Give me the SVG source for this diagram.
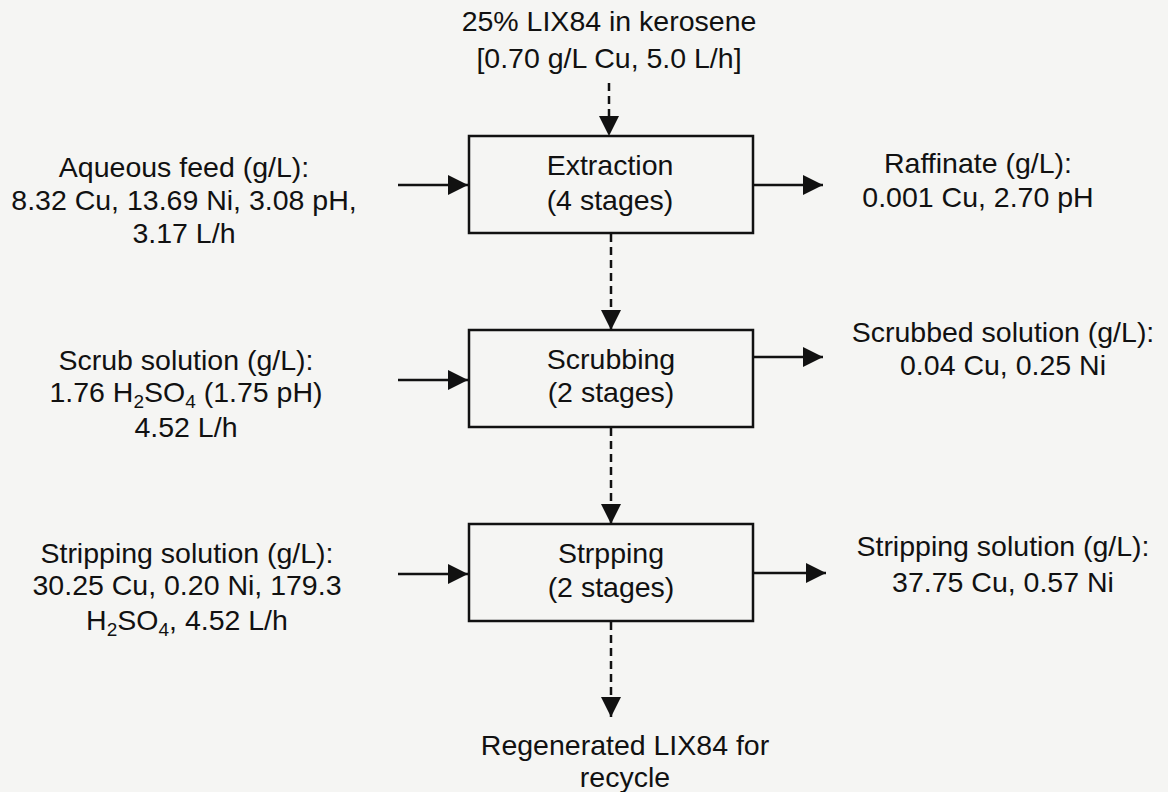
<svg xmlns="http://www.w3.org/2000/svg" width="1168" height="792" viewBox="0 0 1168 792">
<style>
  .t { font-family: "Liberation Sans", Arial, sans-serif; font-size: 28.5px; fill: #111; text-anchor: middle; }
  .box { fill: none; stroke: #111; stroke-width: 2.5; }
  .solid { stroke: #111; stroke-width: 2.5; fill: none; }
  .dash { stroke: #111; stroke-width: 2.5; fill: none; stroke-dasharray: 8 5; }
  .sub { font-size: 19px; }
</style>
<defs>
  <marker id="ah" markerUnits="userSpaceOnUse" markerWidth="20" markerHeight="20" refX="20" refY="10" orient="auto">
    <path d="M0,0 L20,10 L0,20 Z" fill="#111"/>
  </marker>
</defs>
<rect width="1168" height="792" fill="#f5f5f3"/>

<g id="connectors">
  <line class="dash" x1="609" y1="83" x2="609" y2="136" marker-end="url(#ah)"/>
  <line class="dash" x1="611" y1="234" x2="611" y2="330" marker-end="url(#ah)"/>
  <line class="dash" x1="611" y1="428" x2="611" y2="524" marker-end="url(#ah)"/>
  <line class="dash" x1="611" y1="622" x2="611" y2="717" marker-end="url(#ah)"/>
  <line class="solid" x1="398" y1="185" x2="468" y2="185" marker-end="url(#ah)"/>
  <line class="solid" x1="398" y1="380" x2="468" y2="380" marker-end="url(#ah)"/>
  <line class="solid" x1="398" y1="574" x2="468" y2="574" marker-end="url(#ah)"/>
  <line class="solid" x1="753" y1="185" x2="823" y2="185" marker-end="url(#ah)"/>
  <line class="solid" x1="753" y1="357" x2="823" y2="357" marker-end="url(#ah)"/>
  <line class="solid" x1="753" y1="573" x2="826" y2="573" marker-end="url(#ah)"/>
</g>

<g id="extraction">
  <rect class="box" x="469" y="136" width="284" height="97"/>
  <text class="t" x="610" y="175">Extraction</text>
  <text class="t" x="610" y="210">(4 stages)</text>
</g>
<g id="scrubbing">
  <rect class="box" x="469" y="330" width="284" height="97"/>
  <text class="t" x="611" y="369">Scrubbing</text>
  <text class="t" x="611" y="402">(2 stages)</text>
</g>
<g id="stripping">
  <rect class="box" x="469" y="524" width="284" height="97"/>
  <text class="t" x="611" y="563">Strpping</text>
  <text class="t" x="611" y="597">(2 stages)</text>
</g>

<g id="organic-feed">
  <text class="t" x="609" y="31">25% LIX84 in kerosene</text>
  <text class="t" x="609" y="68">[0.70 g/L Cu, 5.0 L/h]</text>
</g>
<g id="aqueous-feed">
  <text class="t" x="184" y="177">Aqueous feed (g/L):</text>
  <text class="t" x="184" y="210">8.32 Cu, 13.69 Ni, 3.08 pH,</text>
  <text class="t" x="184" y="243">3.17 L/h</text>
</g>
<g id="scrub-solution">
  <text class="t" x="186" y="370">Scrub solution (g/L):</text>
  <text class="t" x="186" y="402">1.76 H<tspan class="sub" dy="6">2</tspan><tspan dy="-6">SO</tspan><tspan class="sub" dy="6">4</tspan><tspan dy="-6"> (1.75 pH)</tspan></text>
  <text class="t" x="186" y="437">4.52 L/h</text>
</g>
<g id="stripping-feed">
  <text class="t" x="187" y="563">Stripping solution (g/L):</text>
  <text class="t" x="187" y="595">30.25 Cu, 0.20 Ni, 179.3</text>
  <text class="t" x="187" y="630">H<tspan class="sub" dy="6">2</tspan><tspan dy="-6">SO</tspan><tspan class="sub" dy="6">4</tspan><tspan dy="-6">, 4.52 L/h</tspan></text>
</g>
<g id="raffinate">
  <text class="t" x="978" y="173">Raffinate (g/L):</text>
  <text class="t" x="978" y="207">0.001 Cu, 2.70 pH</text>
</g>
<g id="scrubbed-solution">
  <text class="t" x="1003" y="342">Scrubbed solution (g/L):</text>
  <text class="t" x="1003" y="375">0.04 Cu, 0.25 Ni</text>
</g>
<g id="stripping-product">
  <text class="t" x="1003" y="556">Stripping solution (g/L):</text>
  <text class="t" x="1003" y="592">37.75 Cu, 0.57 Ni</text>
</g>
<g id="regenerated">
  <text class="t" x="625" y="755">Regenerated LIX84 for</text>
  <text class="t" x="625" y="787">recycle</text>
</g>
</svg>
